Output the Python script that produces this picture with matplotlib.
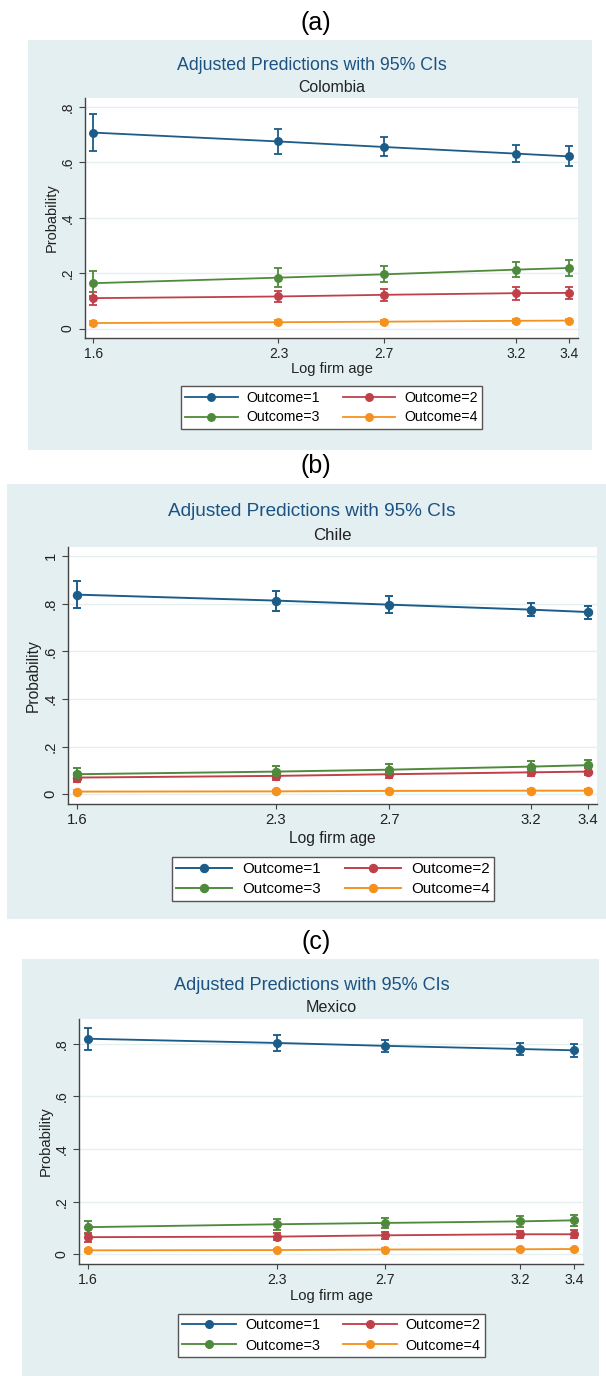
import matplotlib
matplotlib.use("Agg")
import matplotlib.pyplot as plt
from matplotlib.patches import Rectangle
from matplotlib.lines import Line2D
import numpy as np

plt.rcParams['font.family'] = ['Liberation Sans', 'DejaVu Sans']

# x positions (log firm age)
log_age = [1.6, 2.3, 2.7, 3.2, 3.4]
outcome_labels = ['Outcome=1', 'Outcome=2', 'Outcome=3', 'Outcome=4']
colors = ['#1b5c88', '#c0404a', '#4f8a3c', '#f5921e']

# Colombia: predicted probability, lower CI, upper CI  (outcome 1..4)
col_p = [[0.708, 0.676, 0.656, 0.632, 0.622],
         [0.110, 0.116, 0.122, 0.128, 0.129],
         [0.164, 0.184, 0.196, 0.213, 0.219],
         [0.020, 0.023, 0.025, 0.028, 0.029]]
col_lo = [[0.643, 0.632, 0.622, 0.600, 0.586],
          [0.085, 0.095, 0.099, 0.105, 0.106],
          [0.119, 0.150, 0.167, 0.185, 0.189],
          [0.014, 0.016, 0.018, 0.021, 0.022]]
col_hi = [[0.775, 0.720, 0.692, 0.664, 0.658],
          [0.131, 0.137, 0.143, 0.149, 0.150],
          [0.208, 0.218, 0.225, 0.241, 0.249],
          [0.026, 0.030, 0.032, 0.035, 0.036]]

# Chile
chl_p = [[0.838, 0.813, 0.796, 0.775, 0.765],
         [0.070, 0.077, 0.084, 0.092, 0.095],
         [0.084, 0.095, 0.103, 0.116, 0.122],
         [0.011, 0.012, 0.014, 0.015, 0.015]]
chl_lo = [[0.782, 0.771, 0.761, 0.750, 0.737],
          [0.050, 0.060, 0.068, 0.076, 0.079],
          [0.056, 0.070, 0.080, 0.094, 0.099],
          [0.006, 0.007, 0.009, 0.010, 0.010]]
chl_hi = [[0.894, 0.855, 0.831, 0.801, 0.792],
          [0.090, 0.094, 0.100, 0.108, 0.111],
          [0.112, 0.120, 0.127, 0.138, 0.144],
          [0.016, 0.017, 0.019, 0.020, 0.020]]

# Mexico
mex_p = [[0.819, 0.803, 0.792, 0.780, 0.775],
         [0.065, 0.067, 0.072, 0.076, 0.076],
         [0.103, 0.114, 0.119, 0.125, 0.129],
         [0.015, 0.016, 0.018, 0.019, 0.020]]
mex_lo = [[0.777, 0.773, 0.768, 0.756, 0.749],
          [0.047, 0.053, 0.058, 0.062, 0.062],
          [0.077, 0.092, 0.099, 0.105, 0.109],
          [0.010, 0.011, 0.013, 0.014, 0.015]]
mex_hi = [[0.861, 0.832, 0.816, 0.804, 0.800],
          [0.081, 0.082, 0.086, 0.090, 0.091],
          [0.128, 0.135, 0.138, 0.146, 0.149],
          [0.020, 0.021, 0.023, 0.024, 0.025]]

W, H = 606, 1376
fig = plt.figure(figsize=(W / 100, H / 100), dpi=100)

BG = '#e3eff0'
TITLE_C = '#1c5283'
TXT = '#222222'


def fx(px):
    return px / W


def fy(py):
    return 1 - py / H


def panel(k, label, lab_y, bg, plot, ylim, yticks, ylabs, leg, title_y, sub_y,
          xlab_y, ylab_x, country, p, lo, hi):
    # pixel boxes (x0, y0, x1, y1) measured from the top-left corner
    fig.patches.append(Rectangle((fx(bg[0]), fy(bg[3])), fx(bg[2] - bg[0]),
                                 (bg[3] - bg[1]) / H, transform=fig.transFigure,
                                 facecolor=BG, edgecolor='none', zorder=-5))
    fig.text(fx(316), fy(lab_y), label, ha='center', va='center', fontsize=18)
    fig.text(fx(312), fy(title_y), 'Adjusted Predictions with 95% CIs',
             ha='center', va='center', fontsize=12.8 * k, color=TITLE_C)
    x0, y0, x1, y1 = plot
    fig.text(fx((x0 + x1) / 2), fy(sub_y), country, ha='center', va='center',
             fontsize=11.4 * k, color=TXT)
    ax = fig.add_axes([fx(x0), fy(y1), fx(x1 - x0), (y1 - y0) / H])
    ax.set_facecolor('white')
    for i in range(4):
        pp = np.array(p[i])
        err = [pp - np.array(lo[i]), np.array(hi[i]) - pp]
        ax.errorbar(log_age, pp, yerr=err, color=colors[i], lw=1.3 * k,
                    marker='o', ms=5.4 * k, capsize=2.6 * k, elinewidth=1.3 * k,
                    capthick=1.3 * k, zorder=3)
    ax.set_xlim(1.568, 3.433)
    ax.set_ylim(*ylim)
    ax.set_xticks(log_age)
    ax.set_xticklabels([str(v) for v in log_age], fontsize=10 * k, color=TXT)
    ax.set_yticks(yticks)
    ax.set_yticklabels(ylabs, fontsize=10 * k, rotation=90, va='center',
                       color=TXT)
    ax.grid(axis='y', color='#e4eff0', lw=1.0)
    ax.set_axisbelow(True)
    for s in ['top', 'right']:
        ax.spines[s].set_visible(False)
    for s in ['left', 'bottom']:
        ax.spines[s].set_color('#444444')
        ax.spines[s].set_linewidth(1.0)
    ax.tick_params(axis='y', length=4.3 * k, color='#444444', pad=3)
    ax.tick_params(axis='x', length=3.5 * k, color='#444444', pad=3)
    fig.text(fx((x0 + x1) / 2), fy(xlab_y), 'Log firm age', ha='center',
             va='center', fontsize=10.5 * k, color=TXT)
    fig.text(fx(ylab_x), fy((y0 + y1) / 2), 'Probability', ha='center',
             va='center', rotation=90, fontsize=10.5 * k, color=TXT)
    lx0, ly0, lx1, ly1 = leg
    handles = [Line2D([], [], color=c, lw=1.3 * k, marker='o', ms=5.4 * k)
               for c in colors]
    order = [0, 2, 1, 3]
    lg = fig.legend([handles[j] for j in order],
                    [outcome_labels[j] for j in order], ncol=2, loc='center',
                    bbox_to_anchor=(fx((lx0 + lx1) / 2), fy((ly0 + ly1) / 2)),
                    fontsize=10.2 * k, frameon=True, fancybox=False,
                    edgecolor='#555555', framealpha=1, handlelength=3.7,
                    columnspacing=1.6, handletextpad=0.64, borderpad=0.32,
                    labelspacing=0.42, borderaxespad=0)
    lg.get_frame().set_linewidth(1.0)
    return ax


panel(1.0, '(a)', 23, (28, 40, 592, 450), (85, 98, 578, 338), (-0.034, 0.833),
      [0, 0.2, 0.4, 0.6, 0.8], ['0', '.2', '.4', '.6', '.8'],
      (176, 384, 487, 431), 66, 88, 369, 52, 'Colombia', col_p, col_lo, col_hi)

panel(1.07, '(b)', 466, (7, 484, 606, 919), (68, 547, 597, 804), (-0.041, 1.038),
      [0, 0.2, 0.4, 0.6, 0.8, 1.0], ['0', '.2', '.4', '.6', '.8', '1'],
      (166, 854, 500, 904), 512, 536, 838, 33, 'Chile', chl_p, chl_lo, chl_hi)

panel(1.02, '(c)', 942, (22, 959, 599, 1376), (79, 1019, 583, 1264), (-0.037, 0.894),
      [0, 0.2, 0.4, 0.6, 0.8], ['0', '.2', '.4', '.6', '.8'],
      (173, 1312, 490, 1359), 986, 1008, 1296, 46, 'Mexico', mex_p, mex_lo, mex_hi)

fig.savefig('out.png', dpi=100)
